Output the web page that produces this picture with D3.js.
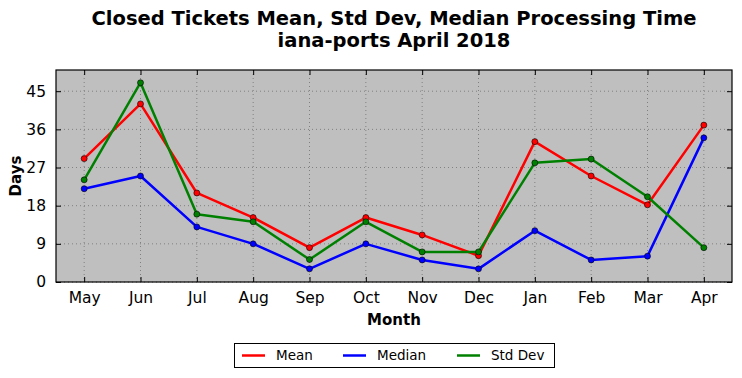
<!DOCTYPE html>
<html>
<head>
<meta charset="utf-8">
<script src="https://d3js.org/d3.v7.min.js"></script>
<style>
  body { margin: 0; background: #fff; }
  svg text { font-family: "DejaVu Sans", sans-serif; }
</style>
</head>
<body>
<svg id="chart" width="742" height="378"></svg>
<script>
var months = ["May", "Jun", "Jul", "Aug", "Sep", "Oct", "Nov", "Dec", "Jan", "Feb", "Mar", "Apr"]
var meanDays = [29.1, 42, 21, 15.2, 8.1, 15.2, 11.1, 6.2, 33.1, 25, 18.2, 37]
var medianDays = [22, 25, 13, 9, 3.1, 9, 5.2, 3.1, 12.1, 5.2, 6.1, 34]
var stdDevDays = [24.1, 47, 16, 14.2, 5.3, 14.2, 7.1, 7.1, 28.1, 29, 20.1, 8.1]
var yTicks = [0, 9, 18, 27, 36, 45]

var series = [
  { name: "Mean", color: "#ff0000", values: meanDays },
  { name: "Median", color: "#0000ff", values: medianDays },
  { name: "Std Dev", color: "#008000", values: stdDevDays }
]

var plotLeft = 56, plotRight = 732, plotTop = 70, plotBottom = 282
var svg = d3.select("#chart")

var x = d3.scaleLinear().domain([-0.5, months.length - 0.5]).range([plotLeft, plotRight])
var y = d3.scaleLinear().domain([0, 50]).range([plotBottom, plotTop])

// plot background
svg.append("rect").attr("x", plotLeft).attr("y", plotTop)
  .attr("width", plotRight - plotLeft).attr("height", plotBottom - plotTop)
  .attr("fill", "#bfbfbf")

// dotted grid
var grid = svg.append("g")
grid.selectAll(".gx").data(months).enter().append("line")
  .attr("x1", function (d, i) { return x(i) }).attr("x2", function (d, i) { return x(i) })
  .attr("y1", plotTop).attr("y2", plotBottom)
  .attr("stroke", "#808080").attr("stroke-width", 1).attr("stroke-dasharray", "1,3")
grid.selectAll(".gy").data(yTicks).enter().append("line")
  .attr("x1", plotLeft).attr("x2", plotRight)
  .attr("y1", function (d) { return y(d) }).attr("y2", function (d) { return y(d) })
  .attr("stroke", "#808080").attr("stroke-width", 1).attr("stroke-dasharray", "1,3")

// axes with inward ticks
var idx = months.map(function (d, i) { return i })
svg.append("g").attr("transform", "translate(0," + plotBottom + ")")
  .call(d3.axisBottom(x).tickValues(idx).tickFormat(function (i) { return months[i] }).tickSizeInner(-5).tickSizeOuter(0).tickPadding(10))
  .call(function (g) { g.select(".domain").remove(); g.selectAll("text").attr("font-size", 15.5).attr("font-family", "DejaVu Sans").attr("fill", "#000") })
svg.append("g").attr("transform", "translate(0," + plotTop + ")")
  .call(d3.axisTop(x).tickValues(idx).tickFormat("").tickSizeInner(-5).tickSizeOuter(0))
  .call(function (g) { g.select(".domain").remove() })
svg.append("g").attr("transform", "translate(" + plotLeft + ",0)")
  .call(d3.axisLeft(y).tickValues(yTicks).tickSizeInner(-5).tickSizeOuter(0).tickPadding(10))
  .call(function (g) { g.select(".domain").remove(); g.selectAll("text").attr("font-size", 15.5).attr("font-family", "DejaVu Sans").attr("fill", "#000") })
svg.append("g").attr("transform", "translate(" + plotRight + ",0)")
  .call(d3.axisRight(y).tickValues(yTicks).tickFormat("").tickSizeInner(-5).tickSizeOuter(0))
  .call(function (g) { g.select(".domain").remove() })

// lines and markers
var line = d3.line().x(function (d, i) { return x(i) }).y(function (d) { return y(d) })
series.forEach(function (s) {
  svg.append("path").datum(s.values)
    .attr("d", line).attr("fill", "none")
    .attr("stroke", s.color).attr("stroke-width", 2.5).attr("stroke-linejoin", "round")
  svg.append("g").selectAll("circle").data(s.values).enter().append("circle")
    .attr("cx", function (d, i) { return x(i) })
    .attr("cy", function (d) { return y(d) })
    .attr("r", 3).attr("fill", s.color)
    .attr("stroke", "#000").attr("stroke-width", 0.6)
})

// frame
svg.append("rect").attr("x", plotLeft).attr("y", plotTop)
  .attr("width", plotRight - plotLeft).attr("height", plotBottom - plotTop)
  .attr("fill", "none").attr("stroke", "#000").attr("stroke-width", 1.2)

// titles
svg.append("text").attr("x", (plotLeft + plotRight) / 2).attr("y", 25)
  .attr("text-anchor", "middle").attr("font-size", 19.5).attr("font-weight", "bold")
  .text("Closed Tickets Mean, Std Dev, Median Processing Time")
svg.append("text").attr("x", (plotLeft + plotRight) / 2).attr("y", 47)
  .attr("text-anchor", "middle").attr("font-size", 19.5).attr("font-weight", "bold")
  .text("iana-ports April 2018")
svg.append("text").attr("x", (plotLeft + plotRight) / 2).attr("y", 325)
  .attr("text-anchor", "middle").attr("font-size", 15).attr("font-weight", "bold")
  .text("Month")
svg.append("text").attr("transform", "translate(21," + (plotTop + plotBottom) / 2 + ") rotate(-90)")
  .attr("text-anchor", "middle").attr("font-size", 15).attr("font-weight", "bold")
  .text("Days")

// legend
var legend = svg.append("g")
legend.append("rect").attr("x", 234.5).attr("y", 343.5).attr("width", 320).attr("height", 24)
  .attr("fill", "#fff").attr("stroke", "#000").attr("stroke-width", 1)
var legendX = [242, 343, 457]
series.forEach(function (s, i) {
  legend.append("line").attr("x1", legendX[i]).attr("x2", legendX[i] + 23)
    .attr("y1", 355.5).attr("y2", 355.5).attr("stroke", s.color).attr("stroke-width", 2.5)
  legend.append("text").attr("x", legendX[i] + 34).attr("y", 360)
    .attr("font-size", 13.5).text(s.name)
})
</script>
</body>
</html>
